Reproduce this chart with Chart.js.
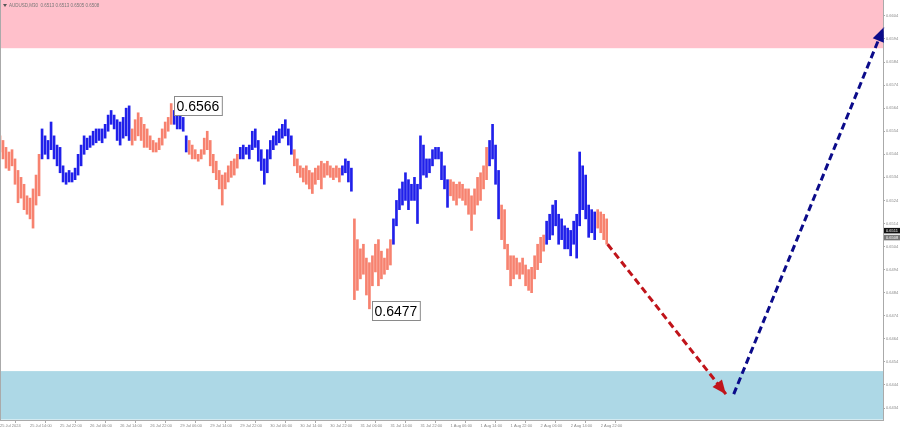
<!DOCTYPE html>
<html><head><meta charset="utf-8">
<script src="https://cdn.jsdelivr.net/npm/chart.js@4.4.1/dist/chart.umd.min.js"></script>
<style>html,body{margin:0;padding:0;background:#fff;}canvas{display:block}</style>
</head><body>
<canvas id="c" width="900" height="431"></canvas>
<script>
const titleText = 'AUDUSD,M30  0.6513 0.6513 0.6505 0.6508';
const highs = [
0.6552,0.6550,0.6547,0.6545,0.6546,0.6542,0.6537,0.6534,0.6531,0.6526,0.6525,0.6529,0.6535,0.6544,
0.6555,0.6552,0.6550,0.6558,0.6552,0.6548,0.6547,0.6539,0.6536,0.6537,0.6536,0.6538,0.6544,0.6548,0.6552,0.6551,0.6552,0.6554,0.6555,0.6555,0.6555,0.6557,0.6561,0.6563,0.6561,0.6559,0.6558,0.6560,0.6564,0.6565,
0.6555,0.6559,0.6562,0.6560,0.6557,0.6555,0.6552,0.6550,0.6549,0.6551,0.6555,0.6558,0.6560,0.6566,
0.6563,0.6561,0.6562,0.6560,0.6552,
0.6550,0.6548,0.6546,0.6544,0.6546,0.6551,0.6554,0.6550,0.6544,0.6541,0.6537,0.6535,0.6536,0.6539,0.6541,0.6542,0.6544,
0.6547,0.6548,0.6547,0.6548,0.6554,0.6555,0.6550,0.6546,0.6542,0.6546,0.6550,0.6552,0.6554,0.6555,0.6557,0.6559,0.6555,0.6552,
0.6546,0.6542,0.6539,0.6538,0.6539,0.6537,0.6536,0.6538,0.6539,0.6541,0.6540,0.6541,0.6539,0.6538,0.6539,0.6538,
0.6539,0.6542,0.6541,0.6538,
0.6516,0.6507,0.6503,0.6505,0.6499,0.6497,0.6500,0.6505,0.6507,0.6502,0.6499,0.6503,0.6507,
0.6516,0.6524,0.6529,0.6532,0.6536,0.6533,0.6531,0.6534,0.6531,0.6552,0.6548,0.6542,0.6542,0.6546,0.6547,0.6547,0.6545,0.6539,0.6533,
0.6533,0.6532,0.6531,0.6532,0.6531,0.6529,0.6529,0.6526,0.6529,0.6534,0.6536,0.6539,0.6547,
0.6550,0.6557,0.6548,0.6537,
0.6522,0.6520,0.6505,0.6500,0.6500,0.6499,0.6497,0.6499,0.6496,0.6494,0.6495,0.6500,0.6505,0.6508,0.6509,
0.6515,0.6518,0.6522,0.6524,0.6518,0.6516,0.6513,0.6512,0.6511,0.6515,0.6518,0.6545,0.6539,0.6535,0.6522,0.6520,0.6519,
0.6520,0.6519,0.6518,0.6516
];
const lows = [
0.6545,0.6542,0.6538,0.6537,0.6539,0.6531,0.6523,0.6525,0.6520,0.6518,0.6516,0.6512,0.6522,0.6526,
0.6542,0.6544,0.6542,0.6546,0.6542,0.6539,0.6536,0.6532,0.6531,0.6532,0.6532,0.6533,0.6535,0.6539,0.6544,0.6546,0.6547,0.6548,0.6549,0.6550,0.6549,0.6551,0.6554,0.6557,0.6555,0.6550,0.6548,0.6551,0.6552,0.6550,
0.6548,0.6550,0.6552,0.6550,0.6547,0.6547,0.6546,0.6545,0.6545,0.6546,0.6548,0.6551,0.6554,0.6557,
0.6557,0.6555,0.6555,0.6554,0.6545,
0.6544,0.6542,0.6542,0.6541,0.6542,0.6544,0.6546,0.6539,0.6536,0.6533,0.6529,0.6522,0.6529,0.6532,0.6534,0.6535,0.6538,
0.6542,0.6542,0.6544,0.6542,0.6546,0.6547,0.6541,0.6537,0.6531,0.6536,0.6542,0.6546,0.6548,0.6549,0.6551,0.6552,0.6548,0.6544,
0.6539,0.6536,0.6534,0.6532,0.6531,0.6529,0.6527,0.6531,0.6533,0.6529,0.6534,0.6535,0.6534,0.6533,0.6534,0.6532,
0.6535,0.6536,0.6532,0.6528,
0.6481,0.6485,0.6490,0.6492,0.6483,0.6477,0.6487,0.6493,0.6487,0.6490,0.6492,0.6494,0.6496,
0.6505,0.6513,0.6520,0.6522,0.6524,0.6520,0.6524,0.6524,0.6514,0.6529,0.6535,0.6534,0.6536,0.6539,0.6542,0.6542,0.6533,0.6529,0.6521,
0.6526,0.6524,0.6522,0.6525,0.6524,0.6522,0.6518,0.6511,0.6518,0.6522,0.6524,0.6529,0.6533,
0.6539,0.6542,0.6531,0.6516,
0.6507,0.6503,0.6494,0.6487,0.6490,0.6492,0.6490,0.6492,0.6487,0.6485,0.6484,0.6490,0.6494,0.6497,0.6502,
0.6505,0.6507,0.6509,0.6513,0.6505,0.6507,0.6503,0.6503,0.6500,0.6505,0.6499,0.6513,0.6520,0.6516,0.6508,0.6510,0.6507,
0.6512,0.6510,0.6507,0.6505
];
const waveLengths = [14,30,14,5,17,18,16,4,13,19,13,4,15,17,4];
const waveDirs = ['down','up','down','up','down','up','down','up','down','up','down','up','down','up','down'];
const pinkZone = [0.6590, 0.6611];
const blueZone = [0.6429, 0.6450];
const yTicks = [0.6434,0.6444,0.6454,0.6464,0.6474,0.6484,0.6494,0.6504,0.6514,0.6524,0.6534,0.6544,0.6554,0.6564,0.6574,0.6584,0.6594,0.6604];
const timeLabels = ['25 Jul 2024','25 Jul 14:00','25 Jul 22:00','26 Jul 06:00','26 Jul 14:00','26 Jul 22:00','29 Jul 06:00','29 Jul 14:00','29 Jul 22:00','30 Jul 06:00','30 Jul 14:00','30 Jul 22:00','31 Jul 06:00','31 Jul 14:00','31 Jul 22:00','1 Aug 06:00','1 Aug 14:00','1 Aug 22:00','2 Aug 06:00','2 Aug 14:00','2 Aug 22:00'];
const timeTickIdx = [0,10,20,30,40,50,60,70,80,90,100,110,120,130,140,150,160,170,180,190,200];
const arrowDown = [{x:202.3,y:0.6505},{x:241.7,y:0.6440}];
const arrowUp = [{x:244.3,y:0.6440},{x:294.2,y:0.6599}];
const extremeLabels = [{i:57,v:0.6566,text:'0.6566'},{i:123,v:0.6477,text:'0.6477'}];
const priceMarks = [0.6511, 0.6508];

const UP_COLOR = '#2020ea', DOWN_COLOR = '#f7826f';
const barColors = [];
waveLengths.forEach((n,k)=>{ for(let j=0;j<n;j++) barColors.push(waveDirs[k]==='up'?UP_COLOR:DOWN_COLOR); });
const bars = highs.map((h,i)=>({x:i, y:[lows[i], h]}));

const zonePlugin = {
  id:'zones',
  beforeDatasetsDraw(chart){
    const {ctx, chartArea:a, scales:{y}} = chart;
    ctx.save();
    ctx.beginPath(); ctx.rect(a.left,a.top,a.right-a.left,a.bottom-a.top); ctx.clip();
    [[pinkZone,'#ffc0cb'],[blueZone,'#add8e6']].forEach(([z,c])=>{
      const y1=y.getPixelForValue(z[1]), y0=y.getPixelForValue(z[0]);
      ctx.fillStyle=c; ctx.fillRect(a.left,y1,a.right-a.left,y0-y1);
    });
    ctx.restore();
  },
  afterDatasetsDraw(chart){
    const ctx=chart.ctx;
    [1,2].forEach(di=>{
      const pts=chart.getDatasetMeta(di).data;
      const a=pts[pts.length-2], b=pts[pts.length-1];
      const ang=Math.atan2(b.y-a.y,b.x-a.x);
      const L=14, W=6;
      ctx.save(); ctx.fillStyle=chart.data.datasets[di].borderColor;
      ctx.beginPath(); ctx.moveTo(b.x,b.y);
      ctx.lineTo(b.x-L*Math.cos(ang)+W*Math.sin(ang), b.y-L*Math.sin(ang)-W*Math.cos(ang));
      ctx.lineTo(b.x-L*Math.cos(ang)-W*Math.sin(ang), b.y-L*Math.sin(ang)+W*Math.cos(ang));
      ctx.closePath(); ctx.fill(); ctx.restore();
    });
  },
  afterDraw(chart){
    const {ctx, chartArea:a, scales:{x,y}} = chart;
    ctx.save();
    // frame left line
    ctx.strokeStyle='#aaa'; ctx.lineWidth=1;
    ctx.beginPath(); ctx.moveTo(a.left+0.5,a.top); ctx.lineTo(a.left+0.5,a.bottom); ctx.stroke();
    // extreme labels
    ctx.font='14px "Liberation Sans", Arial, sans-serif';
    ctx.textBaseline='middle';
    extremeLabels.forEach(l=>{
      const px=x.getPixelForValue(l.i), py=y.getPixelForValue(l.v);
      const w=ctx.measureText(l.text).width+5;
      const left=Math.round(px+3), cy=Math.round(py+2);
      ctx.fillStyle='#fff'; ctx.fillRect(left,cy-10,w,20);
      ctx.strokeStyle='#8a8a8a'; ctx.strokeRect(left+0.5,cy-9.5,w,19);
      ctx.fillStyle='#000'; ctx.textAlign='left'; ctx.fillText(l.text,left+2.5,cy+1);
    });
    // price marks
    ctx.font='4px "Liberation Sans", Arial, sans-serif';
    priceMarks.forEach((v,k)=>{
      const py=y.getPixelForValue(v);
      ctx.fillStyle=k===0?'#111':'#777';
      ctx.fillRect(a.right+1,py-2.5,16,5.5);
      ctx.fillStyle='#fff'; ctx.textAlign='left'; ctx.fillText(v.toFixed(4),a.right+3,py+0.3);
    });
    // title
    ctx.fillStyle='#555';
    ctx.beginPath(); ctx.moveTo(3,4); ctx.lineTo(7,4); ctx.lineTo(5,7); ctx.closePath(); ctx.fill();
    ctx.fillStyle='#777'; ctx.font='4.5px "Liberation Sans", Arial, sans-serif';
    ctx.textAlign='left'; ctx.fillText(titleText,9,5.5);
    ctx.restore();
  }
};

new Chart(document.getElementById('c'), {
  data:{
    datasets:[
      {type:'bar', data:bars, backgroundColor:barColors, barThickness:2, borderWidth:0, grouped:false, order:3},
      {type:'line', data:arrowDown, borderColor:'#c0141a', borderWidth:3, borderDash:[7,4], pointRadius:0, clip:false, order:1},
      {type:'line', data:arrowUp, borderColor:'#0b0b8a', borderWidth:3, borderDash:[7,4], pointRadius:0, clip:false, order:2}
    ]
  },
  options:{
    responsive:false, animation:false, devicePixelRatio:1,
    layout:{padding:0},
    plugins:{legend:{display:false}, tooltip:{enabled:false}},
    scales:{
      x:{type:'linear', min:0, max:294, offset:false, position:'bottom',
        afterBuildTicks:s=>{ s.ticks=timeTickIdx.map(v=>({value:v})); },
        afterFit:s=>{ s.height=11; s.paddingLeft=0; s.paddingRight=0; },
        ticks:{autoSkip:false, maxRotation:0, minRotation:0, align:'start', padding:0, color:'#888',
          font:{size:4, family:'"Liberation Sans", Arial, sans-serif'}, callback:(v,i)=>timeLabels[i]},
        grid:{display:true, drawOnChartArea:false, tickLength:3, color:'#aaa'},
        border:{display:true, color:'#aaa'}
      },
      y:{type:'linear', position:'right', min:0.64288, max:0.66109,
        afterBuildTicks:s=>{ s.ticks=yTicks.map(v=>({value:v})); },
        afterFit:s=>{ s.width=17; s.paddingTop=0; s.paddingBottom=0; },
        ticks:{padding:1, color:'#888', font:{size:4, family:'"Liberation Sans", Arial, sans-serif'}, callback:v=>v.toFixed(4)},
        grid:{display:true, drawOnChartArea:false, tickLength:2, color:'#aaa'},
        border:{display:true, color:'#aaa'}
      }
    }
  },
  plugins:[zonePlugin]
});
</script>
</body></html>
